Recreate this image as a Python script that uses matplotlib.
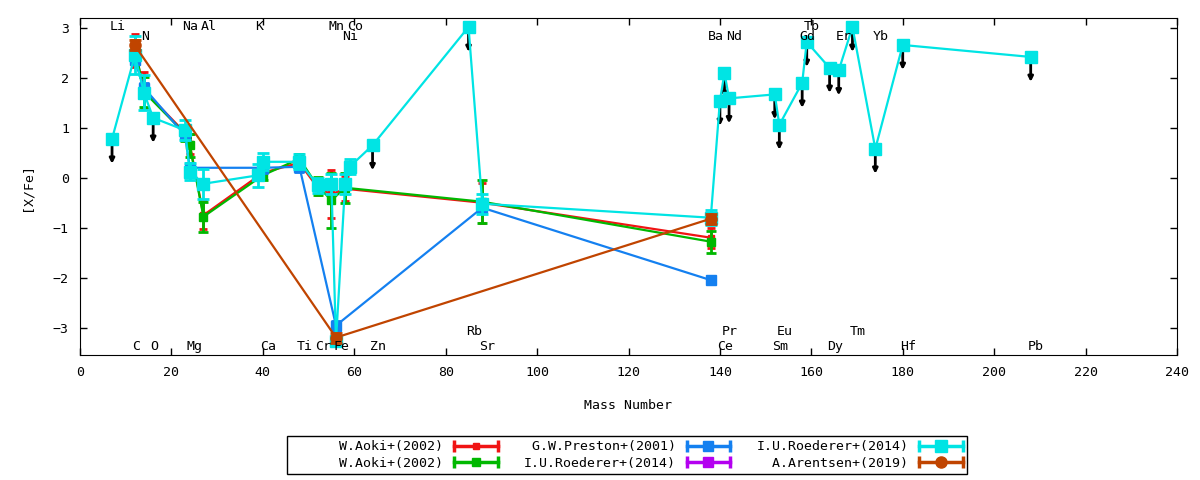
import numpy as np
import matplotlib
matplotlib.use('Agg')
import matplotlib.pyplot as plt
import matplotlib.transforms as mtransforms
from matplotlib.lines import Line2D
from matplotlib.legend_handler import HandlerLine2D

plt.rcParams['font.family'] = 'DejaVu Sans Mono'
plt.rcParams['font.size'] = 9.5

# W.Aoki+(2002), red
aoki1_mass = [12, 14, 23, 24, 27, 40, 48, 52, 55, 58, 88, 138]
aoki1_val = [2.55, 1.75, 0.9, 0.68, -0.75, 0.1, 0.3, -0.2, -0.33, -0.22, -0.5, -1.2]
aoki1_err = [0.33, 0.36, 0.15, 0.2, 0.28, 0.1, 0.1, 0.15, 0.48, 0.25, 0.4, 0.2]

# W.Aoki+(2002), green
aoki2_mass = [12, 14, 23, 24, 27, 40, 48, 52, 55, 58, 88, 138]
aoki2_val = [2.6, 1.72, 0.88, 0.65, -0.78, 0.05, 0.38, -0.17, -0.45, -0.2, -0.48, -1.28]
aoki2_err = [0.15, 0.3, 0.15, 0.23, 0.3, 0.1, 0.1, 0.18, 0.55, 0.3, 0.43, 0.22]

# G.W.Preston+(2001), blue
preston_mass = [12, 14, 23, 24, 40, 48, 56, 88, 138]
preston_val = [2.35, 1.8, 0.85, 0.2, 0.2, 0.22, -2.96, -0.6, -2.05]
preston_err = [0.08, 0.1, 0.1, 0.1, 0.1, 0.1, 0.1, 0.1, 0.05]

# I.U.Roederer+(2014), purple (hidden under cyan)
roederer1_mass = [56]
roederer1_val = [-3.27]
roederer1_err = [0.05]

# I.U.Roederer+(2014), cyan; ul=1 marks upper limits
roederer2_mass = [7, 12, 14, 16, 23, 24, 27, 39, 40, 48, 52, 55, 56, 58, 59, 64,
                  85, 88, 138, 140, 141, 142, 152, 153, 158, 159, 164, 166, 169,
                  174, 180, 208]
roederer2_val = [0.78, 2.45, 1.7, 1.2, 0.95, 0.12, -0.12, 0.05, 0.32, 0.32, -0.15,
                 -0.12, -3.27, -0.12, 0.22, 0.65, 3.02, -0.52, -0.8, 1.54, 2.1,
                 1.59, 1.67, 1.06, 1.9, 2.72, 2.2, 2.15, 3.02, 0.58, 2.66, 2.42]
roederer2_err = [0, 0.38, 0.35, 0, 0.2, 0.17, 0.3, 0.23, 0.17, 0.15, 0.15, 0.2,
                 0.05, 0.2, 0.15, 0, 0, 0.2, 0.15, 0, 0, 0, 0, 0, 0, 0, 0, 0, 0,
                 0, 0, 0]
roederer2_ul = [1, 0, 0, 1, 0, 0, 0, 0, 0, 0, 0, 0, 0, 0, 0, 1, 1, 0, 0, 1, 1, 1,
                1, 1, 1, 1, 1, 1, 1, 1, 1, 1]

# A.Arentsen+(2019), brown
arentsen_mass = [12, 56, 138]
arentsen_val = [2.65, -3.2, -0.82]
arentsen_err = [0.1, 0.1, 0.1]

# element labels: name, mass number, row (0/1 top, 2/3 bottom)
elem_names = ['Li', 'C', 'N', 'O', 'Na', 'Mg', 'Al', 'K', 'Ca', 'Ti', 'Cr', 'Mn',
              'Fe', 'Ni', 'Co', 'Zn', 'Rb', 'Sr', 'Ba', 'Ce', 'Pr', 'Nd', 'Sm',
              'Eu', 'Gd', 'Tb', 'Dy', 'Er', 'Tm', 'Yb', 'Hf', 'Pb']
elem_mass = [7, 12, 14, 16, 23, 24, 27, 39, 40, 48, 52, 55, 56, 58, 59, 64, 85, 88,
             138, 140, 141, 142, 152, 153, 158, 159, 164, 166, 169, 174, 180, 208]
elem_row = [0, 3, 1, 3, 0, 3, 0, 0, 3, 3, 3, 0, 3, 1, 0, 3, 2, 3, 1, 3, 2, 1, 3,
            2, 1, 0, 3, 1, 2, 1, 3, 3]
row_y = [0.976, 0.946, 0.071, 0.026]

series = [
    ('W.Aoki+(2002)', aoki1_mass, aoki1_val, aoki1_err, '#f01414', 's', 4, 3),
    ('W.Aoki+(2002)', aoki2_mass, aoki2_val, aoki2_err, '#00b800', 's', 6, 3.5),
    ('G.W.Preston+(2001)', preston_mass, preston_val, preston_err, '#1480f0', 's', 7, 3.5),
    ('I.U.Roederer+(2014)', roederer1_mass, roederer1_val, roederer1_err, '#b400f0', 's', 7, 4),
    ('I.U.Roederer+(2014)', roederer2_mass, roederer2_val, roederer2_err, '#00e4e4', 's', 8, 4),
    ('A.Arentsen+(2019)', arentsen_mass, arentsen_val, arentsen_err, '#c04400', 'o', 8, 4),
]

fig = plt.figure(figsize=(12, 4.8), dpi=100)
ax = fig.add_axes([0.0667, 0.2604, 0.9141, 0.7021])

handles = []
hmap = {}
for i, (name, m, v, e, c, mk, ms, cap) in enumerate(series):
    z = 3 + i * 2
    m = np.array(m)
    v = np.array(v)
    e = np.array(e)
    ax.plot(m, v, color=c, lw=1.6, zorder=z)
    ok = e > 0
    ax.errorbar(m[ok], v[ok], yerr=e[ok], fmt='none', ecolor=c, elinewidth=2,
                capsize=cap, capthick=2, zorder=z)
    ax.plot(m, v, ls='none', marker=mk, ms=ms, color=c, zorder=z + 1)
    caps = Line2D([], [], color=c, lw=2.5, marker='|', ms=9, mew=2.5)
    dot = Line2D([], [], color=c, ls='none', marker=mk, ms=ms)
    hmap[caps] = HandlerLine2D(numpoints=2, marker_pad=0)
    hmap[dot] = HandlerLine2D(numpoints=1)
    handles.append((caps, dot))

# upper limits of the cyan set
for m, v, u in zip(roederer2_mass, roederer2_val, roederer2_ul):
    if u:
        ax.annotate('', xy=(m, v - 0.5), xytext=(m, v),
                    arrowprops=dict(arrowstyle='-|>', color='black', lw=2,
                                    mutation_scale=7, shrinkA=0, shrinkB=0),
                    zorder=10)

trans = mtransforms.blended_transform_factory(ax.transData, ax.transAxes)
for name, m, r in zip(elem_names, elem_mass, elem_row):
    ax.text(m - 0.6, row_y[r], name, transform=trans, ha='left', va='center',
            zorder=20)

ax.set_xlim(0, 240)
ax.set_ylim(-3.55, 3.2)
ax.set_xticks(np.arange(0, 241, 20))
ax.set_yticks(np.arange(-3, 4, 1))
ax.tick_params(direction='in', top=True, right=True, length=5, width=1, pad=8)
ax.set_xlabel('Mass Number', labelpad=14)
ax.set_ylabel('[X/Fe]', labelpad=14)

# order so that rows read like the reference (column-wise fill)
order = [0, 1, 2, 3, 4, 5]
labels = [s[0].rjust(19) for s in series]
leg = fig.legend([handles[k] for k in order], [labels[k] for k in order],
                 handler_map=hmap, ncol=3, markerfirst=False, loc='center',
                 bbox_to_anchor=(0.5225, 0.052), fancybox=False, framealpha=1,
                 edgecolor='black', handlelength=3.3, handletextpad=0.8,
                 columnspacing=2.0, borderpad=0.35, labelspacing=0.25)
leg.get_frame().set_linewidth(1)

fig.savefig('out.png', dpi=100)
